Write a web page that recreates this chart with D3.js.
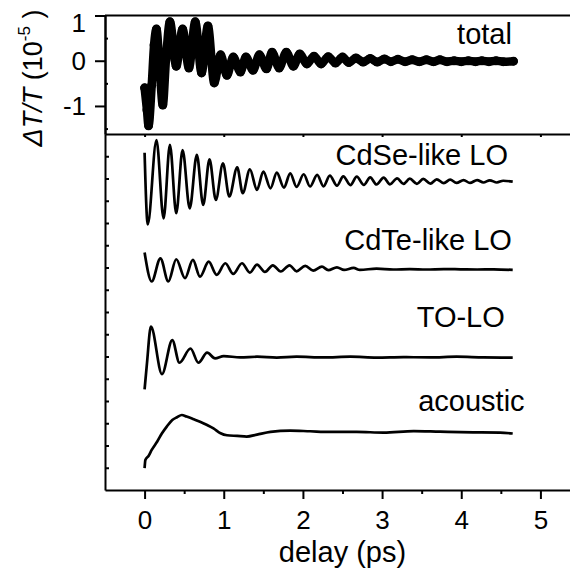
<!DOCTYPE html>
<html>
<head>
<meta charset="utf-8">
<script src="https://cdn.jsdelivr.net/npm/d3@7"></script>
<style>
  body { margin: 0; background: #fff; }
  svg text { font-family: "Liberation Sans", Arial, Helvetica, sans-serif; fill: #000; }
</style>
</head>
<body>
<svg id="chart" width="570" height="578"></svg>
<script>
// Pump-probe transmission change: total signal and its separated phonon components.
// Each series is [delay (ps), value].

// Total dT/T, units of 1e-5
const totalSignal = [
  [0.00,-0.60],[0.03,-1.09],[0.05,-1.44],[0.09,-0.54],[0.12,0.35],[0.15,0.70],
  [0.19,-0.16],[0.23,-0.98],[0.27,0.02],[0.32,0.86],[0.40,-0.12],[0.48,0.70],
  [0.56,-0.16],[0.64,0.86],[0.72,-0.27],[0.80,0.77],[0.88,-0.49],[0.96,0.13],
  [1.04,-0.32],[1.12,0.08],[1.21,-0.25],[1.28,0.08],[1.37,-0.21],[1.45,0.13],
  [1.54,-0.18],[1.61,0.19],[1.70,-0.16],[1.79,0.19],[1.88,-0.12],[1.96,0.15],
  [2.05,-0.07],[2.14,0.10],[2.23,-0.07],[2.32,0.09],[2.41,-0.05],[2.50,0.08],
  [2.58,-0.04],[2.67,0.06],[2.76,-0.03],[2.85,0.05],[2.94,-0.03],[3.03,0.04],
  [3.11,-0.02],[3.20,0.03],[3.29,-0.02],[3.38,0.02],[3.47,-0.02],[3.56,0.02],
  [3.65,-0.02],[3.73,0.02],[3.82,-0.02],[3.91,0.00],[4.00,-0.02],[4.09,0.00],
  [4.18,-0.02],[4.26,0.00],[4.35,-0.02],[4.44,0.00],[4.53,-0.02],[4.66,-0.01]
];

// Component traces, arbitrary units
const cdseLO = [
  [0.00,1.30],[0.04,-1.92],[0.15,1.87],[0.24,-1.65],[0.32,1.65],[0.40,-1.42],
  [0.48,1.42],[0.57,-1.20],[0.66,1.20],[0.74,-1.05],[0.82,1.00],[0.90,-0.82],
  [0.99,0.82],[1.07,-0.67],[1.17,0.64],[1.24,-0.52],[1.33,0.55],[1.42,-0.37],
  [1.50,0.45],[1.59,-0.30],[1.67,0.40],[1.76,-0.27],[1.84,0.37],[1.92,-0.24],
  [2.01,0.33],[2.09,-0.22],[2.18,0.30],[2.26,-0.21],[2.34,0.27],[2.43,-0.18],
  [2.51,0.24],[2.60,-0.16],[2.68,0.22],[2.77,-0.15],[2.85,0.19],[2.93,-0.13],
  [3.02,0.18],[3.10,-0.12],[3.19,0.15],[3.27,-0.10],[3.35,0.13],[3.44,-0.10],
  [3.52,0.12],[3.61,-0.09],[3.69,0.10],[3.78,-0.07],[3.86,0.09],[3.94,-0.06],
  [4.03,0.07],[4.11,-0.06],[4.20,0.07],[4.28,-0.04],[4.36,0.06],[4.45,-0.04],
  [4.53,0.04],[4.65,0.00]
];

const cdteLO = [
  [0.00,0.75],[0.09,-0.55],[0.20,0.49],[0.30,-0.55],[0.40,0.45],[0.51,-0.40],
  [0.61,0.42],[0.70,-0.33],[0.81,0.34],[0.91,-0.25],[1.02,0.27],[1.12,-0.21],
  [1.23,0.27],[1.33,-0.15],[1.42,0.21],[1.52,-0.12],[1.62,0.18],[1.72,-0.10],
  [1.83,0.18],[1.92,-0.09],[2.03,0.15],[2.13,-0.06],[2.24,0.12],[2.32,-0.04],
  [2.43,0.09],[2.52,-0.03],[2.64,0.06],[2.72,-0.03],[2.93,0.03],[3.14,-0.01],
  [3.35,0.01],[3.56,-0.01],[3.78,0.01],[3.99,0.00],[4.20,-0.01],[4.41,0.00],
  [4.65,-0.03]
];

const toLO = [
  [0.00,-1.44],[0.03,-0.27],[0.08,1.38],[0.22,-0.75],[0.35,0.78],[0.44,-0.24],
  [0.58,0.40],[0.68,-0.24],[0.79,0.21],[0.89,-0.04],[1.00,0.06],[1.21,0.00],
  [1.42,0.03],[1.67,-0.01],[1.92,0.03],[2.26,0.00],[2.60,0.03],[2.93,-0.01],
  [3.27,0.01],[3.61,0.00],[3.94,0.03],[4.28,0.00],[4.65,-0.01]
];

const acoustic = [
  [0.00,-1.60],[0.01,-1.23],[0.05,-1.05],[0.09,-0.78],[0.16,-0.40],[0.22,-0.03],
  [0.28,0.27],[0.35,0.57],[0.41,0.69],[0.47,0.79],[0.53,0.72],[0.62,0.60],
  [0.70,0.49],[0.79,0.34],[0.87,0.19],[0.96,-0.03],[1.04,-0.12],[1.17,-0.15],
  [1.29,-0.18],[1.42,-0.09],[1.59,0.03],[1.84,0.09],[2.09,0.06],[2.34,0.03],
  [2.68,0.03],[3.02,0.00],[3.40,0.07],[3.73,0.04],[4.15,0.01],[4.49,0.00],
  [4.65,-0.04]
];

const componentNames = ["CdSe-like LO", "CdTe-like LO", "TO-LO", "acoustic"];
const xTickValues = [0, 1, 2, 3, 4, 5];
const yTopTickValues = [-1, 0, 1];

// ---- layout ----
const svg = d3.select("#chart");
const FONT = "\"Liberation Sans\", Arial, Helvetica, sans-serif";

const x = d3.scaleLinear().domain([-0.5, 5.5]).range([105, 580]);
const yTop = d3.scaleLinear().domain([-1.62, 1]).range([134, 15.5]);
const yBot = d3.scaleLinear().domain([0, 16]).range([490, 134]);

// vertical offsets of the stacked components in the lower panel
const componentOffsets = [13.86, 9.92, 5.96, 2.58];
const componentSeries = [cdseLO, cdteLO, toLO, acoustic];
// label anchors: [delay of right edge, height above the trace's baseline]
const componentLabelPos = [[4.59, 0.75], [4.64, 0.87], [4.55, 1.38], [4.80, 0.99]];

function styleAxis(g) {
  g.attr("font-family", FONT);
  g.selectAll("path.domain").attr("stroke", "#000").attr("stroke-width", 2);
  g.selectAll(".tick line").attr("stroke", "#000").attr("stroke-width", 2);
  g.selectAll(".tick text").attr("fill", "#000");
}

// bottom time axis with half-step minor ticks
const gxMinor = svg.append("g")
  .attr("transform", `translate(0,${yBot(0)})`)
  .call(d3.axisBottom(x).tickValues([0.5, 1.5, 2.5, 3.5, 4.5]).tickSize(4).tickSizeOuter(0).tickFormat(""));
styleAxis(gxMinor);
gxMinor.select("path.domain").remove();

const gx = svg.append("g")
  .attr("transform", `translate(0,${yBot(0)})`)
  .call(d3.axisBottom(x).tickValues(xTickValues).tickSize(9).tickSizeOuter(0).tickPadding(12)
        .tickFormat(d => String(d)));
styleAxis(gx);
gx.attr("font-size", 26);

// separator between the panels, carrying the top panel's time ticks
const gxTop = svg.append("g")
  .attr("transform", `translate(0,${yTop(-1.62)})`)
  .call(d3.axisBottom(x).tickValues(xTickValues).tickSize(3).tickSizeOuter(0).tickFormat(""));
styleAxis(gxTop);

// top frame edge
svg.append("line")
  .attr("x1", x(-0.5)).attr("x2", x(5.5))
  .attr("y1", yTop(1)).attr("y2", yTop(1))
  .attr("stroke", "#000").attr("stroke-width", 2);

// top panel value axis
const gyTopMinor = svg.append("g")
  .attr("transform", `translate(${x(-0.5)},0)`)
  .call(d3.axisLeft(yTop).tickValues([-1.5, -0.5, 0.5]).tickSize(-3).tickSizeOuter(0).tickFormat(""));
styleAxis(gyTopMinor);

const gyTop = svg.append("g")
  .attr("transform", `translate(${x(-0.5)},0)`)
  .call(d3.axisLeft(yTop).tickValues(yTopTickValues).tickSize(10).tickSizeOuter(0).tickPadding(9)
        .tickFormat(d => String(d)));
styleAxis(gyTop);
gyTop.attr("font-size", 26);
gyTop.selectAll(".tick").filter(d => d === 1).select("text").attr("dy", "0.62em");

// lower panel axis (unlabelled offset ticks)
const gyBot = svg.append("g")
  .attr("transform", `translate(${x(-0.5)},0)`)
  .call(d3.axisLeft(yBot).tickValues(d3.range(1, 16)).tickSize(-4).tickSizeOuter(0).tickFormat(""));
styleAxis(gyBot);

// ---- total signal (dense markers drawn as a heavy band) ----
const topLine = d3.line()
  .x(d => x(d[0]))
  .y(d => yTop(d[1]))
  .curve(d3.curveMonotoneX);

svg.append("path")
  .datum(totalSignal)
  .attr("d", topLine)
  .attr("fill", "none")
  .attr("stroke", "#000")
  .attr("stroke-width", 8.5)
  .attr("stroke-linejoin", "round")
  .attr("stroke-linecap", "round");

svg.append("g").selectAll("circle")
  .data(totalSignal)
  .join("circle")
  .attr("cx", d => x(d[0]))
  .attr("cy", d => yTop(d[1]))
  .attr("r", 4.5)
  .attr("fill", "#000");

svg.append("text")
  .attr("x", x(4.64)).attr("y", yTop(0.37))
  .attr("text-anchor", "end")
  .attr("font-size", 29)
  .text("total");

// ---- stacked components ----
componentSeries.forEach((series, i) => {
  const off = componentOffsets[i];
  const line = d3.line()
    .x(d => x(d[0]))
    .y(d => yBot(off + d[1]))
    .curve(d3.curveMonotoneX);
  svg.append("path")
    .datum(series)
    .attr("d", line)
    .attr("fill", "none")
    .attr("stroke", "#000")
    .attr("stroke-width", 2.7)
    .attr("stroke-linejoin", "round");
  const [lt, lv] = componentLabelPos[i];
  svg.append("text")
    .attr("x", x(lt)).attr("y", yBot(off + lv))
    .attr("text-anchor", "end")
    .attr("font-size", 29)
    .text(componentNames[i]);
});

// ---- axis titles ----
svg.append("text")
  .attr("x", (x(-0.5) + x(5.5)) / 2)
  .attr("y", 562)
  .attr("text-anchor", "middle")
  .attr("font-size", 29)
  .text("delay (ps)");

const yTitle = svg.append("text")
  .attr("transform", "translate(42,78) rotate(-90)")
  .attr("text-anchor", "middle")
  .attr("font-size", 27);
yTitle.append("tspan").attr("font-style", "italic").text("ΔT/T");
yTitle.append("tspan").text(" (10");
yTitle.append("tspan").attr("font-size", 17).attr("dy", -12).text("-5");
yTitle.append("tspan").attr("dy", 12).text(" )");
</script>
</body>
</html>
